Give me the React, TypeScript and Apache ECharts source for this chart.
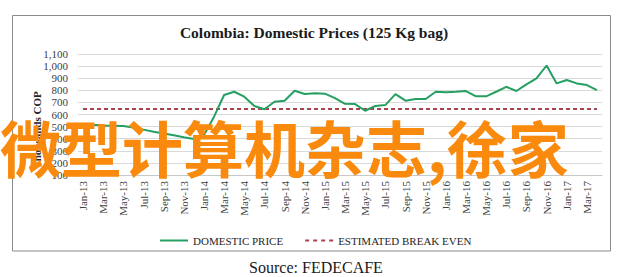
import React, { useEffect, useRef } from "react";
import * as echarts from "echarts";

const categories = [
  "Jan-13", "Feb-13", "Mar-13", "Apr-13", "May-13", "Jun-13", "Jul-13", "Aug-13", "Sep-13", "Oct-13", "Nov-13", "Dec-13",
  "Jan-14", "Feb-14", "Mar-14", "Apr-14", "May-14", "Jun-14", "Jul-14", "Aug-14", "Sep-14", "Oct-14", "Nov-14", "Dec-14",
  "Jan-15", "Feb-15", "Mar-15", "Apr-15", "May-15", "Jun-15", "Jul-15", "Aug-15", "Sep-15", "Oct-15", "Nov-15", "Dec-15",
  "Jan-16", "Feb-16", "Mar-16", "Apr-16", "May-16", "Jun-16", "Jul-16", "Aug-16", "Sep-16", "Oct-16", "Nov-16", "Dec-16",
  "Jan-17", "Feb-17", "Mar-17", "Apr-17",
];

const domesticPrice = [
  521, 515, 510, 508, 505, 492, 475, 458, 443, 428, 412, 397,
  430, 582, 761, 788, 747, 670, 643, 705, 714, 796, 769, 775,
  772, 735, 688, 686, 631, 670, 678, 769, 714, 728, 728, 788,
  783, 788, 794, 750, 750, 788, 829, 794, 849, 899, 1005, 857,
  885, 857, 843, 802,
];

const breakEvenLevel = 645;
const estimatedBreakEven = categories.map(() => breakEvenLevel);

const yMin = 100;
const yMax = 1100;
const yStep = 100;

const titleText = "Colombia: Domestic Prices (125 Kg bag)";
const yAxisTitle = "Thousands COP";
const sourceText = "Source: FEDECAFE";
const watermarkText = "微型计算机杂志,徐家";
const seriesNames = ["DOMESTIC PRICE", "ESTIMATED BREAK EVEN"];

const SERIF = "Liberation Serif";
const GREEN = "#25a062";
const RED = "#a8424f";

export default function App() {
  const ref = useRef<HTMLDivElement>(null);
  useEffect(() => {
    const chart = echarts.init(ref.current!, null, { renderer: "svg" });
    chart.setOption({
      animation: false,
      backgroundColor: "#ffffff",
      grid: { left: 78, right: 20, top: 54, bottom: 102, containLabel: false },
      legend: {
        left: 155,
        top: 230,
        itemWidth: 28,
        itemHeight: 2,
        itemGap: 22,
        textStyle: { fontFamily: SERIF, fontSize: 11, color: "#262626" },
        data: [
          { name: seriesNames[0], icon: "path://M0,0H28V2H0Z", itemStyle: { color: GREEN } },
          {
            name: seriesNames[1],
            icon: "path://M0,0H4V2H0Z M8,0H12V2H8Z M16,0H20V2H16Z M24,0H28V2H24Z",
            itemStyle: { color: RED },
          },
        ],
      },
      xAxis: {
        type: "category",
        data: categories,
        boundaryGap: true,
        axisLine: { show: true, lineStyle: { color: "#c8c8c8", width: 1 } },
        axisTick: { show: false },
        axisLabel: {
          interval: 1,
          rotate: 90,
          margin: 6,
          fontFamily: SERIF,
          fontSize: 11,
          color: "#404040",
        },
        splitLine: { show: false },
      },
      yAxis: {
        type: "value",
        min: yMin,
        max: yMax,
        interval: yStep,
        axisLine: { show: false },
        axisTick: { show: false },
        axisLabel: {
          margin: 10,
          fontFamily: SERIF,
          fontSize: 11,
          color: "#404040",
          formatter: (v: number) => v.toLocaleString("en-US"),
        },
        splitLine: { show: true, lineStyle: { color: "#d9d9d9", width: 1 } },
      },
      series: [
        {
          name: seriesNames[0],
          type: "line",
          data: domesticPrice,
          symbol: "none",
          lineStyle: { color: GREEN, width: 2 },
          itemStyle: { color: GREEN },
          z: 3,
        },
        {
          name: seriesNames[1],
          type: "line",
          data: estimatedBreakEven,
          symbol: "none",
          lineStyle: { color: RED, width: 2, type: [4, 3] },
          itemStyle: { color: RED },
          z: 2,
        },
      ],
      graphic: [
        {
          type: "rect",
          shape: { x: 12.5, y: 15.5, width: 598, height: 235.5 },
          style: { fill: "none", stroke: "#8a8a8a", lineWidth: 1 },
          silent: true,
        },
        {
          type: "text",
          x: 314,
          y: 32,
          style: {
            text: titleText,
            fontFamily: SERIF,
            fontWeight: "bold",
            fontSize: 15.5,
            fill: "#1a1a1a",
            textAlign: "center",
            textVerticalAlign: "middle",
          },
        },
        {
          type: "text",
          x: 37,
          y: 130,
          rotation: Math.PI / 2,
          style: {
            text: yAxisTitle,
            fontFamily: SERIF,
            fontWeight: "bold",
            fontSize: 11,
            fill: "#262626",
            textAlign: "center",
            textVerticalAlign: "middle",
          },
        },
        {
          type: "text",
          x: 316,
          y: 267,
          style: {
            text: sourceText,
            fontFamily: SERIF,
            fontSize: 16,
            fill: "#1a1a1a",
            textAlign: "center",
            textVerticalAlign: "middle",
          },
        },
        {
          type: "text",
          x: 0,
          y: 146,
          z: 100,
          style: {
            text: watermarkText,
            fontFamily: "Noto Sans CJK SC",
            fontWeight: "bold",
            fontSize: 61,
            fill: "#f98a0d",
            textAlign: "left",
            textVerticalAlign: "middle",
          },
        },
      ],
    });
    return () => chart.dispose();
  }, []);
  return (
    <div
      ref={ref}
      style={{ position: "absolute", left: 0, top: 0, width: 622, height: 277, background: "#fff" }}
    />
  );
}
